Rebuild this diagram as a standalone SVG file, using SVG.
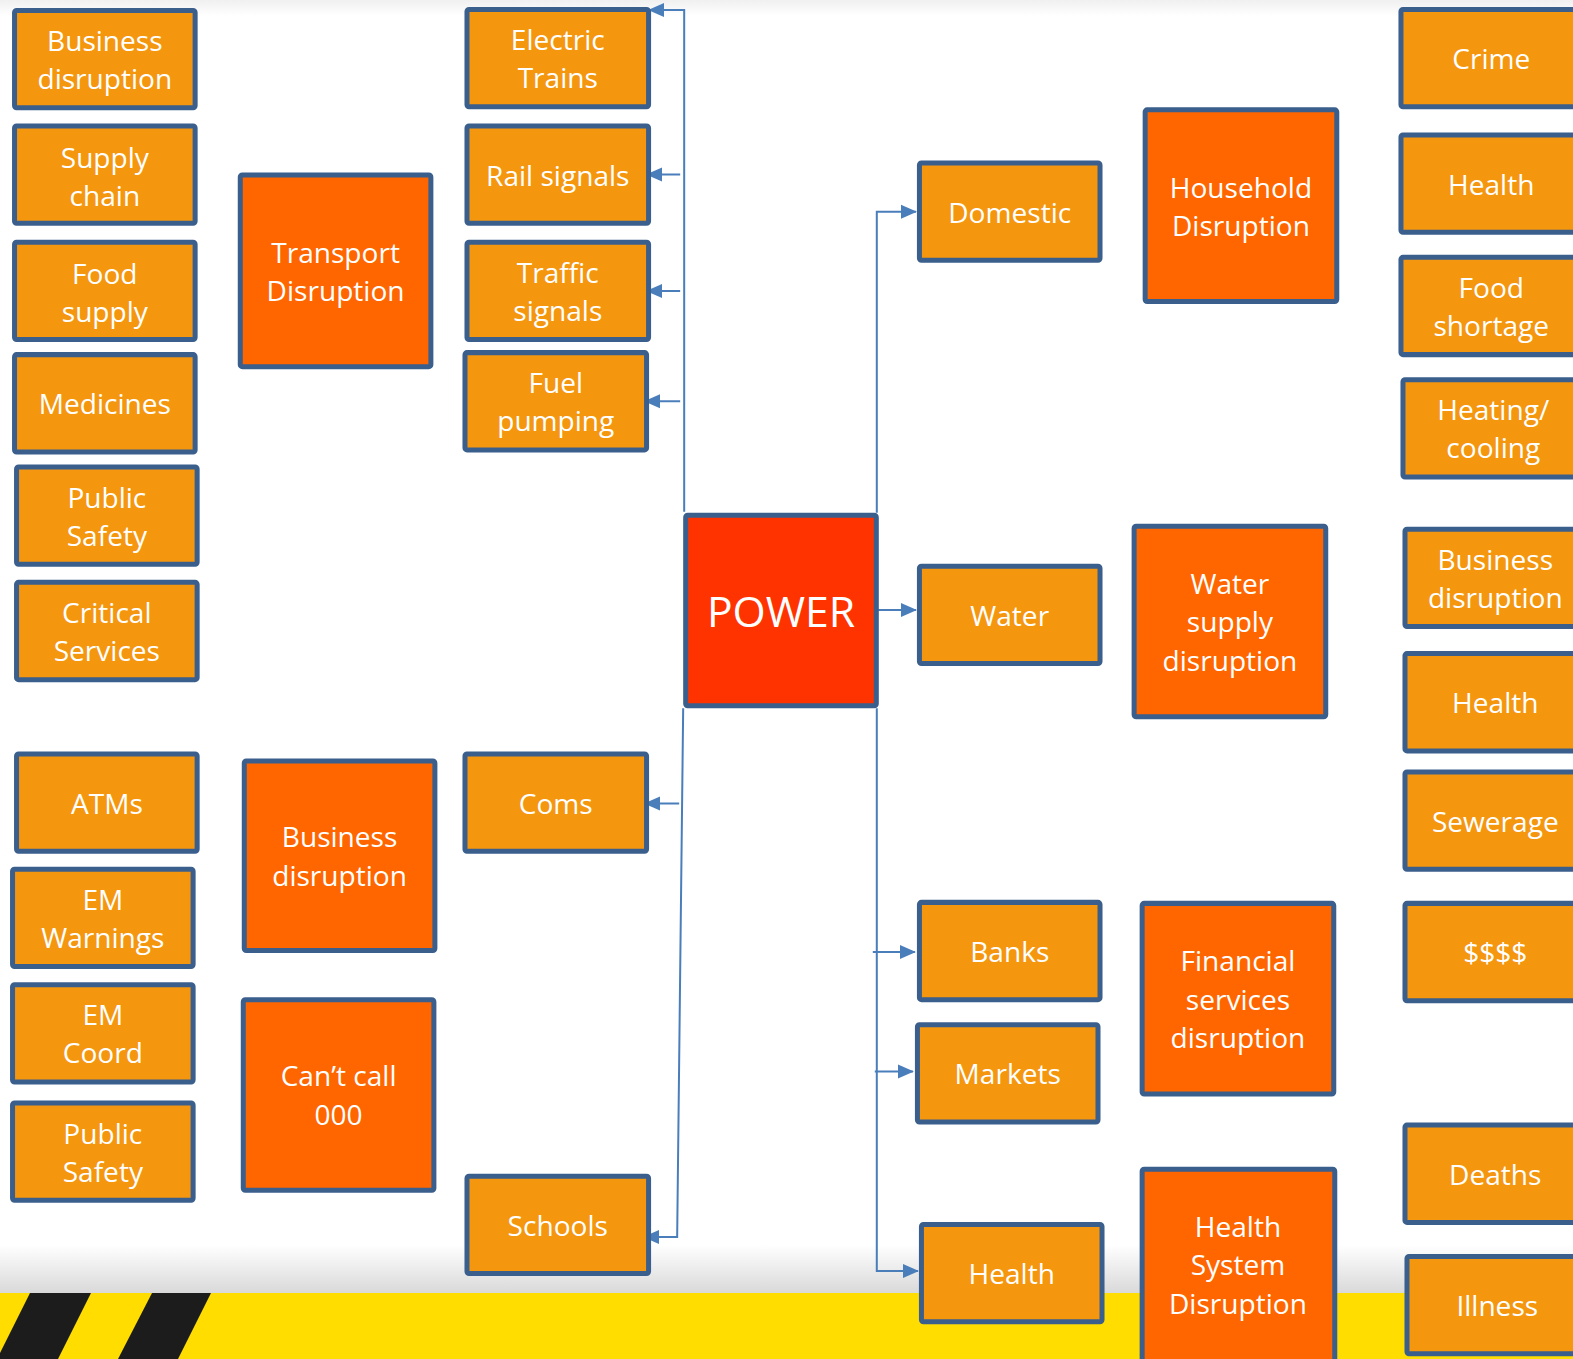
<svg xmlns="http://www.w3.org/2000/svg" width="1573" height="1359" viewBox="0 0 1573 1359">
<defs>
<linearGradient id="topg" x1="0" y1="0" x2="0" y2="1"><stop offset="0" stop-color="#f0f0f0"/><stop offset="1" stop-color="#ffffff"/></linearGradient>
<linearGradient id="botg" x1="0" y1="0" x2="0" y2="1"><stop offset="0" stop-color="#ffffff"/><stop offset="1" stop-color="#d9d9d9"/></linearGradient>
<marker id="arr" markerUnits="userSpaceOnUse" markerWidth="16" markerHeight="16" viewBox="0 0 16 16" refX="15" refY="8" orient="auto"><path d="M0,1 L16,8 L0,15 Z" fill="#4A7EBB"/></marker>
</defs>
<style>
.b rect{fill:#F5960F;stroke:#3B5F8C;stroke-width:5}
.d rect{fill:#FF6600;stroke:#3B5F8C;stroke-width:5}
.p rect{fill:#FF3300;stroke:#3B5F8C;stroke-width:5}
text{font-family:"Open Sans","DejaVu Sans",sans-serif;font-size:28px;fill:#ffffff;text-anchor:middle}
.big{font-size:42.5px}
.c path{fill:none;stroke:#4A7EBB;stroke-width:2;marker-end:url(#arr)}
</style>
<rect x="0" y="0" width="1573" height="1359" fill="#ffffff"/>
<rect x="0" y="0" width="1573" height="16" fill="url(#topg)"/>
<rect x="0" y="1245" width="1573" height="48" fill="url(#botg)"/>
<rect x="0" y="1293" width="1573" height="66" fill="#FFDD00"/>
<polygon points="30,1293 91,1293 58,1359 -3,1359" fill="#1c1c1c"/>
<polygon points="152,1293 211,1293 178,1359 118,1359" fill="#1c1c1c"/>

<g transform="scale(1.0032)">
<g class="c" id="connectors">
<path d="M682,510 V10 H647"/>
<path d="M678,174 H645"/>
<path d="M678,290 H645"/>
<path d="M678,400 H643"/>
<path d="M681,706 L675,1233 H642"/>
<path d="M677,801 H643"/>
<path d="M874,511 V211 H913"/>
<path d="M874,608 H913"/>
<path d="M874,706 V1267 H915"/>
<path d="M870,949 H912"/>
<path d="M872,1068 H910"/>
</g>

<g id="n1" class="b"><rect x="14.5" y="10.5" width="180" height="97" rx="2"/><text x="104.5" y="51">Business</text><text x="104.5" y="89">disruption</text></g>
<g id="n2" class="b"><rect x="14.5" y="125.5" width="180" height="97" rx="2"/><text x="104.5" y="167">Supply</text><text x="104.5" y="205">chain</text></g>
<g id="n3" class="b"><rect x="14.5" y="241.5" width="180" height="97" rx="2"/><text x="104.5" y="283">Food</text><text x="104.5" y="321">supply</text></g>
<g id="n4" class="b"><rect x="14.5" y="353.5" width="180" height="97" rx="2"/><text x="104.5" y="413">Medicines</text></g>
<g id="n5" class="b"><rect x="16.5" y="465.5" width="180" height="97" rx="2"/><text x="106.5" y="506">Public</text><text x="106.5" y="544">Safety</text></g>
<g id="n6" class="b"><rect x="16.5" y="580.5" width="180" height="97" rx="2"/><text x="106.5" y="621">Critical</text><text x="106.5" y="659">Services</text></g>
<g id="n7" class="b"><rect x="16.5" y="751.5" width="180" height="97" rx="2"/><text x="106.5" y="811">ATMs</text></g>
<g id="n8" class="b"><rect x="12.5" y="866.5" width="180" height="97" rx="2"/><text x="102.5" y="907">EM</text><text x="102.5" y="945">Warnings</text></g>
<g id="n9" class="b"><rect x="12.5" y="981.5" width="180" height="97" rx="2"/><text x="102.5" y="1022">EM</text><text x="102.5" y="1060">Coord</text></g>
<g id="n10" class="b"><rect x="12.5" y="1099.5" width="180" height="97" rx="2"/><text x="102.5" y="1140">Public</text><text x="102.5" y="1178">Safety</text></g>

<g id="n11" class="d"><rect x="239.5" y="174.5" width="190" height="191" rx="2"/><text x="334.5" y="262">Transport</text><text x="334.5" y="300">Disruption</text></g>
<g id="n12" class="d"><rect x="243.5" y="758.5" width="190" height="189" rx="2"/><text x="338.5" y="844">Business</text><text x="338.5" y="883">disruption</text></g>
<g id="n13" class="d"><rect x="242.5" y="996.5" width="190" height="190" rx="2"/><text x="337.5" y="1083">Can’t call</text><text x="337.5" y="1121">000</text></g>

<g id="n14" class="b"><rect x="465.5" y="9.5" width="181" height="97" rx="2"/><text x="556" y="50">Electric</text><text x="556" y="88">Trains</text></g>
<g id="n15" class="b"><rect x="465.5" y="125.5" width="181" height="97" rx="2"/><text x="556" y="185">Rail signals</text></g>
<g id="n16" class="b"><rect x="465.5" y="241.5" width="181" height="97" rx="2"/><text x="556" y="282">Traffic</text><text x="556" y="320">signals</text></g>
<g id="n17" class="b"><rect x="463.5" y="351.5" width="181" height="97" rx="2"/><text x="554" y="392">Fuel</text><text x="554" y="430">pumping</text></g>
<g id="n18" class="b"><rect x="463.5" y="751.5" width="181" height="97" rx="2"/><text x="554" y="811">Coms</text></g>
<g id="n19" class="b"><rect x="465.5" y="1172.5" width="181" height="97" rx="2"/><text x="556" y="1232">Schools</text></g>

<g id="power" class="p"><rect x="683.5" y="513.5" width="190" height="190" rx="2"/><text class="big" x="778.5" y="625">POWER</text></g>

<g id="n20" class="b"><rect x="916.5" y="162.5" width="180" height="97" rx="2"/><text x="1006.5" y="222">Domestic</text></g>
<g id="n21" class="b"><rect x="916.5" y="564.5" width="180" height="97" rx="2"/><text x="1006.5" y="624">Water</text></g>
<g id="n22" class="b"><rect x="916.5" y="899.5" width="180" height="97" rx="2"/><text x="1006.5" y="959">Banks</text></g>
<g id="n23" class="b"><rect x="914.5" y="1021.5" width="180" height="97" rx="2"/><text x="1004.5" y="1081">Markets</text></g>
<g id="n24" class="b"><rect x="918.5" y="1220.5" width="180" height="97" rx="2"/><text x="1008.5" y="1280">Health</text></g>

<g id="n25" class="d"><rect x="1141.5" y="109.5" width="191" height="191" rx="2"/><text x="1237" y="197">Household</text><text x="1237" y="235">Disruption</text></g>
<g id="n26" class="d"><rect x="1130.5" y="524.5" width="191" height="190" rx="2"/><text x="1226" y="592">Water</text><text x="1226" y="630">supply</text><text x="1226" y="669">disruption</text></g>
<g id="n27" class="d"><rect x="1138.5" y="900.5" width="191" height="190" rx="2"/><text x="1234" y="968">Financial</text><text x="1234" y="1007">services</text><text x="1234" y="1045">disruption</text></g>
<g id="n28" class="d"><rect x="1138.5" y="1165.5" width="192" height="200" rx="2"/><text x="1234" y="1233">Health</text><text x="1234" y="1271">System</text><text x="1234" y="1310">Disruption</text></g>

<g id="n29" class="b"><rect x="1396.5" y="9.5" width="180" height="97" rx="2"/><text x="1486.5" y="69">Crime</text></g>
<g id="n30" class="b"><rect x="1396.5" y="134.5" width="180" height="97" rx="2"/><text x="1486.5" y="194">Health</text></g>
<g id="n31" class="b"><rect x="1396.5" y="256.5" width="180" height="97" rx="2"/><text x="1486.5" y="297">Food</text><text x="1486.5" y="335">shortage</text></g>
<g id="n32" class="b"><rect x="1398.5" y="378.5" width="180" height="97" rx="2"/><text x="1488.5" y="419">Heating/</text><text x="1488.5" y="457">cooling</text></g>
<g id="n33" class="b"><rect x="1400.5" y="527.5" width="180" height="97" rx="2"/><text x="1490.5" y="568">Business</text><text x="1490.5" y="606">disruption</text></g>
<g id="n34" class="b"><rect x="1400.5" y="651.5" width="180" height="97" rx="2"/><text x="1490.5" y="711">Health</text></g>
<g id="n35" class="b"><rect x="1400.5" y="769.5" width="180" height="97" rx="2"/><text x="1490.5" y="829">Sewerage</text></g>
<g id="n36" class="b"><rect x="1400.5" y="900.5" width="180" height="97" rx="2"/><text x="1490.5" y="960">$$$$</text></g>
<g id="n37" class="b"><rect x="1400.5" y="1121.5" width="180" height="97" rx="2"/><text x="1490.5" y="1181">Deaths</text></g>
<g id="n38" class="b"><rect x="1402.5" y="1252.5" width="180" height="97" rx="2"/><text x="1492.5" y="1312">Illness</text></g>
</g>
</svg>
